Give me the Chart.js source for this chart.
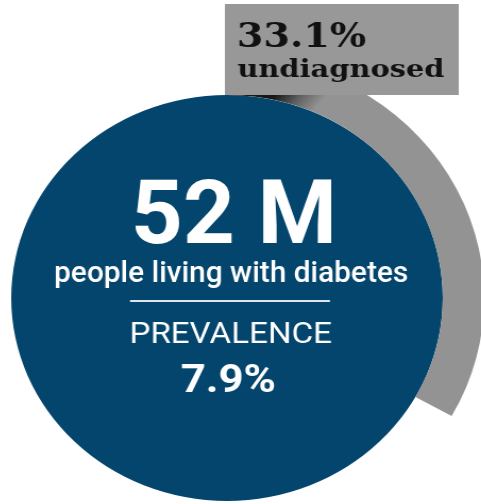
<!DOCTYPE html>
<html>
<head>
<meta charset="utf-8">
<script src="https://cdn.jsdelivr.net/npm/chart.js@4.4.1/dist/chart.umd.min.js"></script>
<style>
  html, body { margin: 0; padding: 0; background: #ffffff; overflow: hidden; width: 481px; height: 504px; }
  /* the figure is drawn slightly wider than tall */
  #wrap { position: absolute; left: 0; top: 0; width: 500px; height: 550px;
          transform-origin: 0 0; transform: translateX(-38.75px) scaleX(1.063); }
  canvas { display: block; }
</style>
</head>
<body>
<div id="wrap"><canvas id="c" width="500" height="550"></canvas></div>
<script>
// Share of people with diabetes, diagnosed vs undiagnosed (percent)
const segmentLabels = ['undiagnosed', 'diagnosed'];
const segmentValues = [33.1, 66.9];
// Full disc for the total population living with diabetes
const totalValues = [100];
const headline = '52 M';
const headlineCaption = 'people living with diabetes';
const prevalenceLabel = 'PREVALENCE';
const prevalenceValues = [7.9];

const BLUE = '#04456d';
const GREY = '#939393';
const BOX_GREY = '#989898';

// Draws text so its ink has a given cap height and width
function fitText(ctx, text, x, baseline, weight, family, ascentPx, widthPx, color, align) {
  ctx.font = `${weight} 100px ${family}`;
  const m0 = ctx.measureText(text);
  const size = 100 * ascentPx / m0.actualBoundingBoxAscent;
  ctx.font = `${weight} ${size}px ${family}`;
  const m = ctx.measureText(text);
  const inkW = m.actualBoundingBoxLeft + m.actualBoundingBoxRight;
  const sx = widthPx / inkW;
  ctx.save();
  ctx.fillStyle = color;
  ctx.textAlign = 'left';
  ctx.textBaseline = 'alphabetic';
  ctx.translate(x, baseline);
  ctx.scale(sx, 1);
  if (align === 'left') {
    ctx.fillText(text, m.actualBoundingBoxLeft, 0);
  } else {
    ctx.fillText(text, -(m.actualBoundingBoxRight - m.actualBoundingBoxLeft) / 2, 0);
  }
  ctx.restore();
}

const overlay = {
  id: 'overlay',
  afterDatasetsDraw(chart) {
    const ctx = chart.ctx;
    const ring = chart.getDatasetMeta(0).data[0];
    const disc = chart.getDatasetMeta(1).data[0];
    const cx = disc.x, cy = disc.y;
    const r = disc.outerRadius;

    // shadow cast by the label box onto the grey ring
    ctx.save();
    ctx.beginPath();
    ctx.arc(cx, cy, ring.outerRadius, ring.startAngle, ring.endAngle);
    ctx.arc(cx, cy, ring.innerRadius, ring.endAngle, ring.startAngle, true);
    ctx.closePath();
    ctx.clip();
    const g = ctx.createLinearGradient(cx + 45, cy - r, cx + 75, cy - r + 24);
    g.addColorStop(0, 'rgba(0,0,0,0.85)');
    g.addColorStop(0.5, 'rgba(0,0,0,0.35)');
    g.addColorStop(1, 'rgba(0,0,0,0)');
    ctx.fillStyle = g;
    ctx.fillRect(cx, cy - r - 10, ring.outerRadius, 50);
    ctx.restore();

    // label box for the undiagnosed share
    const boxL = cx - 2, boxR = cx + 218, boxT = cy - 294, boxB = cy - r;
    ctx.fillStyle = BOX_GREY;
    ctx.fillRect(boxL, boxT, boxR - boxL, boxB - boxT);
    const pct = segmentValues[0].toFixed(1) + '%';
    fitText(ctx, pct, cx + 11.3, cy - 251.3, 'bold', '"DejaVu Serif"', 25, 119.5, '#111111', 'left');
    fitText(ctx, segmentLabels[0], cx + 9.7, cy - 220.7, 'bold', '"DejaVu Serif"', 19, 194.4, '#111111', 'left');

    // text inside the disc
    fitText(ctx, headline, cx + 6.1, cy - 54.7, '700', 'Roboto', 65, 185.3, '#ffffff');
    fitText(ctx, headlineCaption, cx + 3.8, cy - 16.3, '500', 'Roboto', 22.5, 331, '#ffffff');
    ctx.save();
    ctx.strokeStyle = '#dfe6ec';
    ctx.lineWidth = 2;
    ctx.beginPath();
    ctx.moveTo(cx + 2.8 - 94, cy + 3);
    ctx.lineTo(cx + 2.8 + 94, cy + 3);
    ctx.stroke();
    ctx.restore();
    fitText(ctx, prevalenceLabel, cx + 4.4, cy + 45.3, '400', 'Roboto', 20.6, 188, '#ffffff');
    fitText(ctx, prevalenceValues[0].toFixed(1) + '%', cx + 1.2, cy + 93.7, '700', 'Roboto', 28.7, 87.5, '#ffffff');
  }
};

function build() {
  new Chart(document.getElementById('c'), {
    type: 'doughnut',
    data: {
      labels: segmentLabels,
      datasets: [
        { data: segmentValues, backgroundColor: [GREY, 'rgba(0,0,0,0)'], borderWidth: 0, weight: 39 },
        { data: totalValues, backgroundColor: [BLUE], borderWidth: 0, weight: 203 }
      ]
    },
    options: {
      responsive: false,
      animation: false,
      events: [],
      cutout: 0,
      rotation: 0,
      circumference: 360,
      hoverOffset: 0,
      layout: { padding: { left: 8, right: 8, top: 56, bottom: 10 } },
      plugins: { legend: { display: false }, tooltip: { enabled: false } }
    },
    plugins: [overlay]
  });
}

const fontLoads = ['700 20px Roboto', '500 20px Roboto', '400 20px Roboto', 'bold 20px "DejaVu Serif"']
  .map(f => document.fonts.load(f).catch(() => null));
Promise.all(fontLoads).then(build, build);
</script>
</body>
</html>
